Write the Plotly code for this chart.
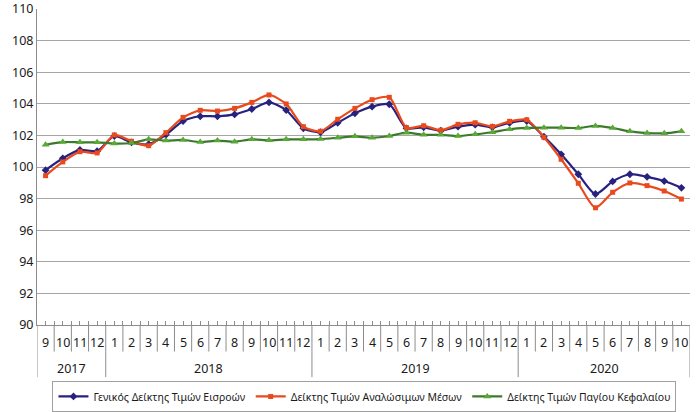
import plotly.graph_objects as go

years = ["2017"] * 4 + ["2018"] * 12 + ["2019"] * 12 + ["2020"] * 10
months = ["9", "10", "11", "12"] + [str(m) for m in range(1, 13)] * 2 + [str(m) for m in range(1, 11)]

general = [99.8, 100.55, 101.08, 101.0,
           101.96, 101.56, 101.44, 102.04, 102.91, 103.21, 103.21, 103.33, 103.67, 104.09, 103.6, 102.45,
           102.2, 102.8, 103.4, 103.82, 103.97, 102.45, 102.51, 102.3, 102.55, 102.68, 102.51, 102.8,
           102.91, 101.92, 100.8, 99.54, 98.29, 99.09, 99.54, 99.38, 99.11, 98.68]
consumables = [99.45, 100.32, 100.97, 100.89,
               102.03, 101.63, 101.35, 102.17, 103.14, 103.59, 103.54, 103.71, 104.09, 104.56, 103.99, 102.55,
               102.26, 103.02, 103.71, 104.26, 104.41, 102.49, 102.61, 102.33, 102.7, 102.8, 102.57, 102.89,
               102.99, 101.88, 100.49, 98.97, 97.42, 98.4, 98.99, 98.82, 98.48, 97.97]
capital = [101.41, 101.58, 101.56, 101.56,
           101.48, 101.52, 101.75, 101.67, 101.71, 101.58, 101.67, 101.6, 101.75, 101.69, 101.75, 101.75,
           101.77, 101.85, 101.94, 101.85, 101.96, 102.17, 102.04, 102.04, 101.96, 102.07, 102.2, 102.39,
           102.47, 102.49, 102.49, 102.47, 102.6, 102.47, 102.26, 102.15, 102.13, 102.26]

names = ["Γενικός Δείκτης Τιμών Εισροών", "Δείκτης Τιμών Αναλώσιμων Μέσων", "Δείκτης Τιμών Παγίου Κεφαλαίου"]
line_colors = ["#27227F", "#E8491D", "#3B7A2A"]
marker_colors = ["#27227F", "#E8491D", "#5AA838"]
symbols = ["diamond", "square", "triangle-up"]
sizes = [6, 5, 7]

font = "Noto Sans"
txt = "#1a1a1a"
axis_col = "#8C8C8C"
n = len(months)
xs = list(range(n))

fig = go.Figure()
for vals, name, lc, mc, sym, sz in zip([general, consumables, capital], names, line_colors, marker_colors, symbols, sizes):
    fig.add_trace(go.Scatter(
        x=xs, y=vals, name=name, mode="lines+markers",
        line=dict(color=lc, width=2.2, shape="spline", smoothing=0.7),
        marker=dict(symbol=sym, size=sz, color=mc),
    ))

annotations = []
shapes = []
for i, m in enumerate(months):
    annotations.append(dict(x=i, y=-0.055, xref="x", yref="paper", text=m, showarrow=False,
                            font=dict(size=12.5, family=font, color=txt), xanchor="center", yanchor="middle"))
for i in range(n + 1):
    shapes.append(dict(type="line", xref="x", yref="paper", x0=i - 0.5, x1=i - 0.5, y0=0, y1=-0.084,
                       line=dict(color=axis_col, width=1)))
groups = []
for i, y in enumerate(years):
    if not groups or groups[-1][0] != y:
        groups.append([y, i, i])
    else:
        groups[-1][2] = i
for y, a, b in groups:
    annotations.append(dict(x=(a + b) / 2, y=-0.139, xref="x", yref="paper", text=y, showarrow=False,
                            font=dict(size=12.5, family=font, color=txt), xanchor="center", yanchor="middle"))
    shapes.append(dict(type="line", xref="x", yref="paper", x0=a - 0.5, x1=a - 0.5, y0=-0.084, y1=-0.165,
                       line=dict(color=axis_col, width=1)))
shapes.append(dict(type="line", xref="x", yref="paper", x0=n - 0.5, x1=n - 0.5, y0=-0.084, y1=-0.165,
                   line=dict(color=axis_col, width=1)))

fig.update_layout(
    width=700, height=412,
    margin=dict(l=37, r=10, t=9, b=87, autoexpand=False),
    paper_bgcolor="white", plot_bgcolor="white",
    font=dict(family=font, size=12.5, color=txt),
    showlegend=True,
    legend=dict(orientation="h", x=0.5015, xanchor="center", y=-0.177, yanchor="top",
                bordercolor="#A0A0A0", borderwidth=1, font=dict(size=10.5, family=font, color=txt),
                itemwidth=30),
    annotations=annotations,
    shapes=shapes,
)
fig.update_yaxes(range=[90, 110], dtick=2, showgrid=True, gridcolor="#A6A6A6", gridwidth=1.2,
                 showline=True, linecolor=axis_col, linewidth=1, ticks="", zeroline=False,
                 ticklabeloverflow="allow", tickfont=dict(size=12.5, family=font, color=txt))
fig.update_xaxes(range=[-0.5, n - 0.5], showline=True, linecolor=axis_col, linewidth=1,
                 ticks="inside", tick0=-0.5, dtick=0.5, ticklen=4, tickcolor=axis_col,
                 showticklabels=False, showgrid=False, zeroline=False)

fig.write_html("out.html", config={"displayModeBar": False},
               post_script="document.body.style.margin='0px';")
